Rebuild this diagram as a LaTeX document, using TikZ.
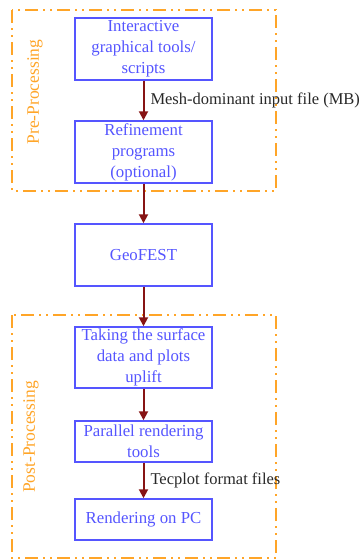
\documentclass[tikz,border=0pt]{standalone}
\usepackage{fontspec}
\setmainfont{Liberation Serif}
\usetikzlibrary{arrows.meta}
\definecolor{boxblue}{RGB}{85,85,255}
\definecolor{grporange}{RGB}{255,165,40}
\definecolor{arrred}{RGB}{135,20,20}
\definecolor{lbl}{RGB}{40,40,40}
\begin{document}
\begin{tikzpicture}[x=1pt,y=-1pt,
  stepbox/.style={draw=boxblue, line width=1.5pt, text=boxblue, align=center,
    minimum width=137pt, inner sep=0pt, font=\fontsize{16.8}{21}\selectfont},
  group/.style={draw=grporange, line width=2.4pt,
    dash pattern=on 13pt off 5pt on 2pt off 5pt on 2pt off 5pt},
  grouplabel/.style={text=grporange, rotate=90, font=\fontsize{17.5}{20}\selectfont},
  flow/.style={draw=arrred, line width=2pt, -{Triangle[length=9pt,width=9pt]}},
  flowlabel/.style={text=lbl, anchor=west, inner sep=0pt, xshift=6pt,
    font=\fontsize{16.5}{20}\selectfont}]
\useasboundingbox (0,0) rectangle (362,560);

% processing groups
\draw[group] (12,10) rectangle (276,191);
\draw[group] (12,315) rectangle (276,558);
\node[grouplabel] (prelbl) at (35,92) {Pre-Processing};
\node[grouplabel] (postlbl) at (31,437) {Post-Processing};

% workflow steps
\node[stepbox, minimum height=62pt] (tools) at (143.5,49) {Interactive\\graphical tools/\\scripts};
\node[stepbox, minimum height=62pt] (refine) at (143.5,152) {Refinement\\programs\\(optional)};
\node[stepbox, minimum height=62pt] (geofest) at (143.5,255) {GeoFEST};
\node[stepbox, minimum height=61pt] (surface) at (143.5,357.5) {Taking the surface\\data and plots\\uplift};
\node[stepbox, minimum height=41pt] (render) at (143.5,441.5) {Parallel rendering\\tools};
\node[stepbox, minimum height=41pt] (pc) at (143.5,519.5) {Rendering on PC};

% connectors
\draw[flow] (tools) -- node[flowlabel] {Mesh-dominant input file (MB)} (refine);
\draw[flow] (refine) -- (geofest);
\draw[flow] (geofest) -- (surface);
\draw[flow] (surface) -- (render);
\draw[flow] (render) -- node[flowlabel] {Tecplot format files} (pc);
\end{tikzpicture}
\end{document}
